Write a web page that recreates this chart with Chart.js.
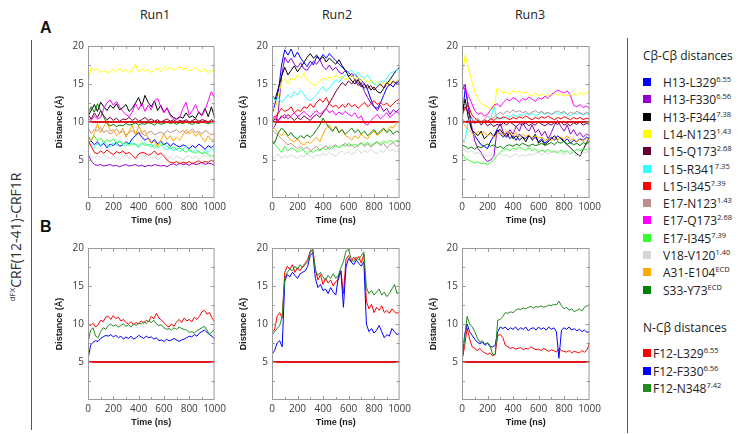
<!DOCTYPE html>
<html><head><meta charset="utf-8">
<script src="https://cdn.jsdelivr.net/npm/chart.js@4"></script>
<style>
html,body{margin:0;padding:0;background:#fff}
body{width:747px;height:434px;position:relative;overflow:hidden;font-family:"Open Sans",sans-serif;color:#222}
canvas{position:absolute}
.run{position:absolute;top:6px;font-size:12.5px;width:80px;margin-left:-40px;text-align:center;color:#222}
.lab{position:absolute;left:40px;font:bold 16px "Liberation Sans",Arial,sans-serif;color:#111}
.vline{position:absolute;width:1px;background:#555}
.side{position:absolute;left:15px;top:237px;transform:translate(-50%,-50%) rotate(-90deg);white-space:nowrap;font-size:14px;color:#333}
.side .s{font-size:8px;position:relative;top:-6px}
.lgt{position:absolute;left:643px;font-size:12px;transform:translateY(-50%);white-space:nowrap;color:#222}
.it{position:absolute;font-size:12px;white-space:nowrap;transform:translateY(-50%);color:#222}
.it .s{font-size:7.5px;position:relative;top:-5px}
.sw{position:absolute;width:8px;height:8px;transform:translateY(-50%)}
</style>
</head><body>
<div class="run" style="left:155px">Run1</div>
<div class="run" style="left:337px">Run2</div>
<div class="run" style="left:530px">Run3</div>
<div class="lab" style="top:19px">A</div>
<div class="lab" style="top:218px">B</div>
<div class="vline" style="left:31px;top:40px;height:390px"></div>
<div class="vline" style="left:627px;top:38px;height:395px"></div>
<div class="side"><span class="s">dFX</span>CRF(12-41)-CRF1R</div>
<div class="lgt" style="top:55px">Cβ-Cβ distances</div>
<div class="lgt" style="top:327px">N-Cβ distances</div>
<script>
// ---------- DATA ----------
const TIME_A = [0,25,50,75,100,125,150,175,200,225,250,275,300,325,350,375,400,425,450,475,500,525,550,575,600,625,650,675,700,725,750,775,800,825,850,875,900,925,950,975,1000];
const TIME_B = [0,20,40,60,80,100,120,140,160,180,200,220,240,260,280,300,320,340,360,380,400,420,440,460,480,500,520,540,560,580,600,620,640,660,680,700,720,740,760,780,800,820,840,860,880,900,920,940,960,980,1000];
const RUNS = ["Run1","Run2","Run3"];
const PAIRS_CB = ["H13-L329","H13-F330","H13-F344","L14-N123","L15-Q173","L15-R341","L15-I345","E17-N123","E17-Q173","E17-I345","V18-V120","A31-E104","S33-Y73"];
const SUPS_CB = ["6.55","6.56","7.38","1.43","2.68","7.35","7.39","1.43","2.68","7.39","1.40","ECD","ECD"];
const PAIRS_NCB = ["F12-L329","F12-F330","F12-N348"];
const SUPS_NCB = ["6.55","6.56","7.42"];
const X_TICKS = [0,200,400,600,800,1000];
const Y_TICKS = [5,10,15,20];
const CUT_T = [0,1000];
const CUT_A = [10,10];
const CUT_B = [5,5];

// Panel A, Run1
const a1_H13_L329 = [8.2,7.5,7.0,7.4,6.8,7.2,6.6,7.1,6.9,7.3,6.8,7.0,7.4,7.1,7.8,8.2,8.6,8.0,7.6,7.9,7.3,7.7,7.1,7.5,7.0,7.3,6.8,7.2,6.9,6.7,7.0,6.8,6.5,6.9,6.6,7.1,6.8,6.4,6.9,6.6,7.0];
const a1_H13_F330 = [5.8,4.9,4.4,4.3,4.4,4.2,4.3,4.4,4.2,4.3,4.1,4.3,4.4,4.2,4.3,4.4,4.2,4.3,4.1,4.3,4.2,4.4,4.3,4.2,4.3,4.1,4.4,4.5,4.3,4.6,4.4,4.5,4.3,4.6,4.4,4.5,4.7,4.4,4.6,4.5,4.3];
const a1_H13_F344 = [10.8,11.5,12.3,11.4,12.6,12.0,11.5,12.2,11.8,12.4,11.6,11.9,12.3,11.4,11.8,12.5,13.2,12.1,13.5,12.6,12.0,12.8,11.5,12.2,11.3,11.8,11.0,10.6,10.4,10.7,10.5,11.2,10.6,10.8,10.5,11.3,10.9,11.8,10.7,12.0,10.6];
const a1_L14_N123 = [15.0,17.2,16.8,17.0,16.5,16.8,16.4,16.7,16.9,16.5,17.1,16.6,16.9,16.5,16.8,17.6,16.6,17.0,16.7,16.9,16.5,16.8,17.1,16.6,17.3,16.9,17.2,16.8,17.0,17.3,16.9,17.1,16.7,16.9,17.2,16.8,16.6,17.0,16.4,16.9,16.5];
const a1_L15_Q173 = [11.0,10.4,11.2,10.6,11.5,10.8,10.3,10.6,10.2,10.5,10.1,10.4,10.3,10.6,10.2,10.5,10.1,10.3,10.6,10.2,10.4,10.1,10.3,10.0,10.2,10.4,10.1,10.3,10.0,10.2,10.1,10.3,10.0,10.2,10.4,10.1,10.3,10.2,10.0,10.3,10.1];
const a1_L15_R341 = [7.5,7.0,6.6,7.2,6.8,7.5,7.0,6.7,7.3,6.9,7.6,7.1,6.8,7.4,7.0,7.2,6.6,7.0,7.3,6.8,7.1,6.5,6.9,7.2,6.6,6.3,6.7,6.2,6.5,6.1,6.4,6.8,6.2,6.0,6.4,6.1,5.8,6.3,6.0,6.5,6.2];
const a1_L15_I345 = [7.6,6.8,6.0,5.8,6.2,5.9,6.3,6.0,5.7,6.1,5.9,6.2,5.8,6.0,5.6,5.2,5.8,6.0,5.9,5.6,5.8,6.2,5.7,5.9,5.5,5.0,4.7,4.6,4.8,4.5,4.7,4.6,4.8,4.5,4.7,4.9,4.6,4.8,4.7,5.0,4.6];
const a1_E17_N123 = [9.2,8.5,9.0,8.8,9.3,8.6,8.9,8.4,8.7,9.1,8.5,8.8,8.3,8.6,8.9,8.4,8.7,8.5,8.2,8.6,8.8,8.3,8.5,8.7,8.4,8.9,8.6,8.8,9.0,8.6,8.9,8.5,8.7,9.1,8.6,8.8,8.4,8.9,8.6,8.3,8.5];
const a1_E17_Q173 = [10.5,10.2,10.8,10.4,10.6,11.8,12.5,12.9,12.2,12.7,12.0,11.4,11.0,10.7,11.3,12.4,11.6,12.5,11.4,12.2,11.6,12.8,13.1,12.0,11.2,11.9,10.8,10.5,10.3,10.6,11.8,12.6,10.9,11.5,12.3,11.2,10.8,11.6,12.8,14.0,13.2];
const a1_E17_I345 = [8.0,7.6,8.2,7.5,7.9,7.3,7.7,7.4,7.8,7.2,7.5,7.0,7.3,6.9,7.2,7.0,6.8,7.3,6.9,7.1,6.7,7.0,6.6,6.9,7.2,6.8,6.5,6.7,6.4,6.6,6.3,6.0,6.4,6.1,5.9,6.2,5.8,6.0,5.7,5.5,5.6];
const a1_V18_V120 = [5.8,5.5,5.2,5.6,5.3,5.7,5.4,5.2,5.6,5.3,5.0,5.4,5.7,5.2,5.5,5.1,5.4,5.8,5.3,5.6,5.2,5.5,5.0,5.3,5.7,5.2,5.4,5.1,5.5,5.3,5.0,5.4,5.6,5.2,5.5,5.1,5.4,5.7,5.3,5.5,5.2];
const a1_A31_E104 = [8.0,7.5,8.5,9.8,8.6,9.4,10.2,8.8,9.0,8.2,8.5,9.2,8.0,8.8,9.6,8.3,9.5,8.6,8.9,7.8,7.2,7.5,6.8,7.6,8.4,7.7,8.2,7.5,8.0,7.6,8.3,9.0,8.4,8.8,8.1,8.6,7.9,7.4,8.2,7.6,7.8];
const a1_S33_Y73 = [11.2,12.0,11.3,12.4,11.5,10.6,9.8,9.5,9.7,9.4,9.6,9.5,9.8,9.6,9.7,9.9,9.6,9.8,9.7,9.9,9.8,9.6,9.9,9.7,9.8,10.0,9.8,9.9,9.7,9.9,9.8,10.0,9.8,9.7,9.9,9.8,10.0,9.9,9.8,9.9,9.9];

// Panel A, Run2
const a2_H13_L329 = [11.0,12.5,14.0,17.5,19.5,18.8,19.6,18.5,19.2,18.4,17.8,17.3,18.0,17.5,18.6,18.2,18.9,18.4,19.0,18.5,18.1,17.6,17.2,16.8,16.5,16.0,16.3,15.8,15.5,15.0,14.2,13.0,12.0,11.8,12.5,13.5,14.5,15.0,14.6,15.3,15.0];
const a2_H13_F330 = [9.0,9.5,11.5,16.0,18.5,17.8,18.4,17.6,17.2,17.8,17.0,16.8,17.4,18.0,17.6,18.2,17.3,16.9,17.5,16.8,17.2,16.6,16.3,16.8,16.0,16.4,15.5,14.8,15.2,14.0,13.2,12.5,12.0,11.5,12.2,11.4,11.8,11.0,11.6,11.3,11.8];
const a2_H13_F344 = [13.5,13.0,14.5,16.0,17.2,16.2,16.8,17.4,16.6,17.2,17.8,18.5,19.0,18.4,18.8,18.2,18.6,17.9,18.4,18.0,17.6,18.2,17.4,16.8,16.0,15.4,15.0,15.6,14.8,14.5,14.9,14.2,14.6,14.0,13.8,14.4,15.0,15.6,16.2,16.8,17.2];
const a2_L14_N123 = [12.0,11.5,13.5,15.2,15.6,15.0,15.8,15.5,16.2,15.8,16.4,15.6,15.2,14.8,15.0,15.4,15.8,15.5,16.0,15.6,16.2,15.8,16.0,15.5,15.8,16.2,15.6,15.9,15.4,15.7,15.2,15.5,15.0,15.3,14.8,15.2,14.9,15.4,15.1,15.5,15.3];
const a2_L15_Q173 = [10.0,10.4,10.2,10.8,10.5,11.0,10.6,10.2,10.6,10.3,10.8,10.5,10.2,10.7,11.0,10.6,11.2,11.8,12.5,13.2,14.0,14.6,15.2,14.8,15.4,15.0,15.6,15.2,14.6,15.0,14.4,14.8,14.2,14.6,15.0,14.5,15.2,14.8,15.4,15.0,15.6];
const a2_L15_R341 = [13.5,12.8,13.2,12.6,13.0,13.6,13.2,14.0,13.5,14.2,13.6,13.0,12.8,13.2,13.6,14.2,14.6,14.0,14.5,15.0,15.6,15.2,15.8,16.2,16.6,16.8,16.2,16.5,16.0,15.8,16.2,15.6,15.0,14.8,15.4,15.2,15.8,16.4,16.6,16.8,17.0];
const a2_L15_I345 = [10.2,10.6,11.2,11.8,11.4,11.6,12.0,11.2,11.6,11.4,12.0,11.8,12.4,11.9,12.6,13.0,12.6,13.2,12.4,12.0,12.2,11.8,12.3,11.9,12.5,12.0,12.3,11.8,12.2,12.6,12.0,12.4,12.8,12.3,12.6,12.2,12.5,12.0,12.4,12.8,13.0];
const a2_E17_N123 = [9.0,8.6,8.2,7.8,7.4,7.0,7.2,6.8,6.5,6.8,6.4,6.7,6.2,6.5,6.8,6.3,6.6,6.9,6.4,6.8,7.0,6.6,6.9,7.2,6.8,7.0,6.6,7.0,7.3,6.8,7.1,6.7,7.0,7.4,6.9,7.2,6.6,7.0,7.3,6.8,7.0];
const a2_E17_Q173 = [10.5,10.8,10.2,10.6,11.0,10.4,10.8,11.2,10.7,11.0,11.4,11.0,10.6,11.2,11.5,11.0,11.4,11.8,11.2,11.5,10.9,11.3,11.0,11.4,11.0,10.8,11.2,10.5,10.8,9.8,9.6,10.2,10.6,11.0,10.4,10.8,11.2,10.6,11.0,11.4,11.0];
const a2_E17_I345 = [7.5,7.0,6.5,6.0,6.8,6.2,6.6,6.4,6.0,6.5,6.2,5.8,6.2,6.0,6.4,6.2,6.6,6.3,6.8,6.5,6.9,6.6,7.0,6.8,7.2,6.9,7.1,6.8,7.2,7.0,7.3,6.9,7.2,7.4,7.1,7.5,7.2,7.6,7.3,7.6,7.4];
const a2_V18_V120 = [5.0,5.4,5.8,5.2,5.6,5.3,5.7,5.4,5.2,5.6,5.4,5.8,5.5,5.3,5.7,5.5,5.9,5.6,6.0,5.7,5.5,5.9,6.2,5.8,6.1,5.7,6.0,6.4,5.9,6.2,6.0,6.5,6.1,5.8,6.3,6.0,6.6,6.2,6.4,6.1,6.3];
const a2_A31_E104 = [9.5,9.0,8.6,8.2,8.8,8.0,7.6,7.4,7.8,7.2,7.0,7.4,7.2,7.6,8.0,7.4,8.4,9.2,9.6,8.8,9.4,8.6,9.0,8.2,8.0,7.6,8.2,7.8,8.4,8.0,7.8,8.4,8.8,8.2,8.6,9.0,8.8,9.4,9.2,9.8,10.0];
const a2_S33_Y73 = [7.0,7.4,8.6,9.2,8.8,8.2,8.6,8.0,7.8,8.2,7.9,8.3,8.0,8.4,9.0,9.6,10.5,9.8,9.2,8.8,9.4,8.6,9.0,8.4,8.8,9.2,8.6,9.0,8.4,8.8,8.2,8.6,9.0,8.4,8.8,9.2,8.6,9.0,8.4,8.8,8.6];

// Panel A, Run3
const a3_H13_L329 = [10.0,14.5,12.0,9.0,8.2,7.6,7.0,6.8,6.5,7.5,8.2,9.0,8.4,8.0,8.6,7.8,8.2,7.6,8.4,8.0,7.8,8.3,7.6,8.0,7.4,7.8,7.2,7.6,8.0,7.6,8.2,7.8,7.4,7.8,7.2,7.6,7.4,7.8,7.6,8.0,7.8];
const a3_H13_F330 = [14.0,15.0,12.0,9.5,7.5,6.5,6.0,5.2,4.8,5.0,5.5,9.0,9.8,8.6,8.2,9.0,8.4,9.4,8.8,10.0,9.2,8.8,9.6,8.6,9.0,8.2,8.8,7.8,8.6,9.6,10.2,9.4,8.8,9.6,8.4,9.0,8.2,8.6,8.0,8.4,8.2];
const a3_H13_F344 = [11.0,13.0,10.5,9.0,8.6,8.2,8.8,7.8,8.2,8.6,8.0,8.8,9.0,8.4,8.0,8.6,7.8,8.2,7.6,8.0,7.4,8.2,7.8,8.4,7.2,7.6,7.0,7.4,7.8,8.2,7.6,8.0,7.4,7.0,6.6,6.2,5.8,5.5,6.4,7.2,8.0];
const a3_L14_N123 = [16.0,18.8,17.0,15.5,14.0,13.0,12.5,12.2,12.0,11.8,11.6,14.5,14.2,13.8,14.0,13.6,14.2,13.8,14.1,13.7,14.0,13.6,13.4,13.8,13.5,13.7,13.3,13.6,13.4,13.8,13.5,13.7,13.4,13.6,13.3,13.7,13.5,13.9,13.6,13.8,14.0];
const a3_L15_Q173 = [11.5,12.0,11.2,10.5,9.8,10.2,9.6,10.0,9.5,9.8,9.4,9.7,9.5,9.9,9.6,10.0,9.7,9.4,9.8,9.6,9.9,9.5,9.8,9.6,10.0,9.7,9.5,9.8,9.6,9.9,9.7,10.0,9.6,9.8,9.5,9.9,9.7,10.0,9.6,9.8,9.7];
const a3_L15_R341 = [7.5,7.8,10.2,10.5,10.0,10.3,9.8,10.2,10.0,10.4,12.0,10.3,10.6,10.4,10.8,10.6,11.0,10.7,11.0,10.8,11.2,10.9,11.1,10.8,11.0,11.3,11.0,11.2,10.9,11.4,11.1,11.0,11.3,11.0,10.8,11.1,11.0,11.2,10.9,11.1,11.0];
const a3_L15_I345 = [11.0,11.8,12.2,11.0,10.5,10.2,10.0,10.3,10.1,10.4,10.2,10.6,10.4,10.7,10.5,10.3,10.6,10.4,10.7,10.5,10.8,10.5,10.3,10.6,10.4,10.7,10.5,10.8,10.5,10.3,10.6,10.4,10.7,10.5,10.3,10.6,10.4,10.6,10.3,10.5,10.4];
const a3_E17_N123 = [10.5,10.0,10.3,9.8,10.2,10.5,10.0,10.3,10.8,10.4,10.6,11.0,11.3,11.0,11.5,11.2,11.6,11.3,11.5,11.2,11.4,11.0,11.3,11.5,11.2,11.4,11.1,11.3,11.0,11.2,11.5,11.2,11.4,11.0,11.3,11.1,11.4,11.2,11.0,11.3,11.1];
const a3_E17_Q173 = [15.0,14.2,13.5,12.5,11.5,11.0,11.2,10.8,11.0,11.6,12.2,12.4,12.0,12.6,13.0,12.8,13.2,13.0,12.6,13.1,12.9,13.3,13.0,12.7,13.2,13.0,13.4,13.1,13.6,13.9,14.2,14.0,13.8,14.1,13.5,12.2,12.0,12.3,11.9,12.1,11.8];
const a3_E17_I345 = [6.0,5.2,5.0,4.8,4.6,4.8,4.5,4.6,4.4,4.7,5.0,5.6,6.0,6.3,6.5,6.2,6.6,6.4,6.7,6.5,6.3,6.6,6.2,6.5,6.0,6.3,6.1,6.4,6.0,6.2,5.9,6.3,6.0,6.2,5.8,6.1,6.4,6.2,6.5,6.3,6.6];
const a3_V18_V120 = [6.5,6.2,6.0,6.3,5.8,6.0,5.6,5.8,5.5,5.7,5.4,5.6,5.8,5.5,5.7,5.3,5.6,5.8,5.4,5.7,5.5,5.8,5.6,5.9,6.0,5.7,6.0,5.8,6.1,5.9,6.2,6.0,5.7,5.9,6.1,5.8,5.5,5.7,5.9,6.0,6.2];
const a3_A31_E104 = [10.0,9.5,9.0,8.6,8.2,8.8,8.4,8.6,8.2,8.5,8.0,8.4,8.6,8.2,8.8,8.5,8.2,8.6,8.0,8.4,8.1,8.3,7.8,8.2,7.9,8.0,7.6,7.8,7.5,7.9,7.6,8.0,7.7,8.2,7.6,7.8,7.4,7.7,7.5,7.8,7.6];
const a3_S33_Y73 = [7.0,6.8,6.5,6.7,6.4,6.8,6.6,6.9,7.1,6.8,7.0,6.6,6.8,6.5,6.9,7.0,6.8,7.1,6.9,7.2,7.0,6.8,7.1,6.9,7.0,7.2,6.9,7.1,7.3,7.0,7.4,7.2,7.5,7.1,7.3,7.0,7.2,6.9,7.3,7.1,7.4];

// Panel B
const b1_F12_L329 = [10.0,9.8,10.1,9.6,9.9,10.5,10.3,10.9,11.0,10.6,11.1,10.7,10.9,10.4,10.6,10.2,10.0,10.3,9.9,10.2,10.0,10.4,10.1,10.5,10.3,11.0,10.7,11.4,10.8,10.5,10.2,9.8,9.6,10.0,9.7,10.3,10.6,10.2,10.8,10.4,10.6,10.3,10.9,10.6,11.0,11.6,11.8,11.3,11.5,10.8,10.3];
const b1_F12_F330 = [5.3,7.2,7.6,7.8,7.7,8.1,8.3,8.5,8.4,8.6,8.3,8.5,8.2,8.4,8.0,8.3,8.1,8.4,8.0,8.2,8.5,8.3,8.1,8.4,8.2,8.3,8.0,8.2,7.8,7.9,7.7,8.0,7.8,7.9,8.1,7.9,7.7,7.9,8.0,8.2,8.4,8.3,8.6,8.4,8.8,9.0,9.2,8.9,8.6,8.4,8.0];
const b1_F12_N348 = [7.5,9.2,9.5,8.4,8.2,9.0,9.5,9.3,9.8,10.0,9.7,9.9,9.6,9.8,10.0,9.7,9.9,9.6,10.0,9.8,10.1,10.0,10.3,10.1,10.4,10.2,10.5,10.0,9.8,9.9,9.5,9.3,9.4,9.2,9.5,9.3,9.6,9.4,9.3,9.2,8.9,9.0,8.8,9.1,9.3,9.5,9.7,9.2,8.6,9.0,9.3];
const b2_F12_L329 = [9.0,9.2,11.0,11.5,10.8,16.8,17.6,17.2,17.8,16.8,17.4,17.0,17.6,18.0,18.5,19.6,19.8,17.2,15.8,16.5,15.2,16.0,15.4,15.8,15.0,15.6,15.8,17.0,14.0,18.5,19.0,18.2,18.8,18.4,18.9,18.0,19.2,13.0,12.0,12.6,11.5,12.2,11.8,12.4,11.5,11.8,11.4,12.0,11.6,11.4,11.6];
const b2_F12_F330 = [6.0,6.5,7.5,7.8,7.0,15.6,16.5,16.2,16.8,16.4,16.0,16.6,16.8,17.0,17.6,19.0,19.4,16.0,14.8,15.2,14.4,14.6,14.0,14.8,14.2,13.8,16.2,17.0,12.2,17.5,18.6,18.2,17.8,18.4,18.0,17.6,18.2,10.0,9.0,9.4,8.8,9.2,9.8,9.0,8.2,8.6,8.4,9.4,9.0,8.6,8.8];
const b2_F12_N348 = [8.5,9.0,9.4,9.8,11.0,16.0,16.8,17.2,17.0,17.6,17.2,17.8,17.4,17.8,18.2,19.4,19.8,17.0,16.4,16.8,16.2,15.8,16.4,16.0,16.6,16.0,16.4,17.4,18.2,19.6,19.8,18.6,18.2,18.8,18.4,19.0,19.5,14.8,14.0,14.4,13.8,14.2,14.6,13.8,14.2,13.6,14.0,14.6,15.2,14.0,14.2];
const b3_F12_L329 = [5.3,7.0,9.5,8.0,7.0,6.8,6.5,6.8,6.4,6.2,6.0,6.2,5.8,6.0,8.5,8.6,8.2,7.2,7.0,6.8,6.9,6.7,6.8,6.9,6.6,6.8,6.7,7.0,6.8,6.6,6.7,6.5,6.8,6.6,6.4,6.6,6.5,6.3,6.8,6.5,6.4,6.3,6.5,6.2,6.4,6.3,6.2,6.5,6.3,6.6,7.5];
const b3_F12_F330 = [5.0,8.5,10.0,9.0,8.5,8.0,7.6,7.4,7.6,7.2,7.5,7.0,7.0,7.2,9.0,9.6,9.4,9.6,9.2,9.5,9.3,9.6,9.2,9.5,9.3,9.6,9.1,9.4,9.5,9.2,9.6,9.3,9.5,9.2,9.6,9.3,9.5,9.0,5.5,9.2,9.5,9.3,9.6,9.2,9.4,9.1,9.3,9.0,9.2,8.9,9.0];
const b3_F12_N348 = [5.0,8.0,11.0,10.0,9.6,9.0,8.2,7.6,7.8,7.4,7.5,7.2,6.0,6.0,10.5,10.6,11.0,11.5,11.4,11.6,11.5,11.8,12.0,11.9,12.1,12.0,12.2,12.3,12.1,12.3,12.2,12.4,12.2,12.3,12.5,12.4,12.6,12.5,13.0,12.4,12.0,12.2,11.8,12.0,11.6,11.8,12.0,11.7,12.2,12.4,12.5];

const RUN1_A = [a1_H13_L329,a1_H13_F330,a1_H13_F344,a1_L14_N123,a1_L15_Q173,a1_L15_R341,a1_L15_I345,a1_E17_N123,a1_E17_Q173,a1_E17_I345,a1_V18_V120,a1_A31_E104,a1_S33_Y73];
const RUN2_A = [a2_H13_L329,a2_H13_F330,a2_H13_F344,a2_L14_N123,a2_L15_Q173,a2_L15_R341,a2_L15_I345,a2_E17_N123,a2_E17_Q173,a2_E17_I345,a2_V18_V120,a2_A31_E104,a2_S33_Y73];
const RUN3_A = [a3_H13_L329,a3_H13_F330,a3_H13_F344,a3_L14_N123,a3_L15_Q173,a3_L15_R341,a3_L15_I345,a3_E17_N123,a3_E17_Q173,a3_E17_I345,a3_V18_V120,a3_A31_E104,a3_S33_Y73];
const RUN1_B = [b1_F12_L329,b1_F12_F330,b1_F12_N348];
const RUN2_B = [b2_F12_L329,b2_F12_F330,b2_F12_N348];
const RUN3_B = [b3_F12_L329,b3_F12_F330,b3_F12_N348];

// ---------- STYLE ----------
const COL_CB = ['#0000ff','#9400d3','#000000','#ffff00','#660033','#33ffff','#ff0000','#bc8f8f','#ff00ff','#33ff33','#d6d6d6','#ffa500','#008000'];
const COL_NCB = ['#ff0000','#0000ff','#228b22'];
const PH = 156, LW = 40, RW = 6, TH = 6, BH = 28;

const framePlugin = {
  id: 'frame',
  afterDraw(c) {
    const {ctx, chartArea: a, scales: {x, y}} = c;
    ctx.save();
    ctx.strokeStyle = '#9a9a9a';
    ctx.lineWidth = 1;
    ctx.strokeRect(a.left + 0.5, a.top + 0.5, a.right - a.left - 1, a.bottom - a.top - 1);
    ctx.beginPath();
    for (let v = 100; v < 1000; v += 100) {
      const px = Math.round(x.getPixelForValue(v)) + 0.5;
      const L = (v % 200 === 0) ? 4 : 3;
      ctx.moveTo(px, a.bottom); ctx.lineTo(px, a.bottom - L);
      ctx.moveTo(px, a.top); ctx.lineTo(px, a.top + L);
    }
    for (let v = 2.5; v < 20; v += 2.5) {
      const py = Math.round(y.getPixelForValue(v)) + 0.5;
      const L = (v % 5 === 0) ? 4 : 3;
      ctx.moveTo(a.left, py); ctx.lineTo(a.left + L, py);
      ctx.moveTo(a.right, py); ctx.lineTo(a.right - L, py);
    }
    ctx.stroke();
    ctx.restore();
  }
};

function makePanel(px, py, pw, times, sets, colors, cut) {
  const cv = document.createElement('canvas');
  const W = pw + LW + RW, H = PH + TH + BH;
  cv.width = W; cv.height = H;
  cv.style.left = (px - LW) + 'px'; cv.style.top = (py - TH) + 'px';
  cv.style.width = W + 'px'; cv.style.height = H + 'px';
  document.body.appendChild(cv);
  const ds = [{data: CUT_T.map((t, i) => ({x: t, y: cut[i]})), borderColor: '#e3141c', borderWidth: 2, pointRadius: 0, tension: 0}];
  for (let i = sets.length - 1; i >= 0; i--) {
    ds.push({data: times.map((t, k) => ({x: t, y: sets[i][k]})), borderColor: colors[i], borderWidth: 1, pointRadius: 0, tension: 0});
  }
  const tickFont = {family: 'Open Sans', size: 10};
  const titleFont = {family: 'Liberation Sans', weight: 'bold', size: 9};
  new Chart(cv, {
    type: 'line',
    data: {datasets: ds},
    options: {
      responsive: false, animation: false, devicePixelRatio: 1, events: [],
      layout: {padding: {left: 0, top: TH, right: RW, bottom: 0}},
      plugins: {legend: {display: false}, tooltip: {enabled: false}},
      scales: {
        x: {type: 'linear', min: 0, max: 1000,
          afterFit: s => { s.height = BH; },
          afterBuildTicks: s => { s.ticks = X_TICKS.map(v => ({value: v})); },
          grid: {display: false, drawTicks: false}, border: {display: false},
          ticks: {padding: 3, font: tickFont, color: '#3a3a3a', maxRotation: 0, autoSkip: false, callback: v => String(v)},
          title: {display: true, text: 'Time (ns)', font: titleFont, color: '#1a1a1a', padding: {top: 0, bottom: 0}}},
        y: {type: 'linear', min: 0, max: 20,
          afterFit: s => { s.width = LW; },
          afterBuildTicks: s => { s.ticks = Y_TICKS.map(v => ({value: v})); },
          grid: {display: false, drawTicks: false}, border: {display: false},
          ticks: {padding: 4, font: tickFont, color: '#3a3a3a', callback: v => String(v)},
          title: {display: true, text: 'Distance (Å)', font: titleFont, color: '#1a1a1a', padding: {top: 6, bottom: 0}}}
      }
    },
    plugins: [framePlugin]
  });
}

makePanel(88, 42, 135, TIME_A, RUN1_A, COL_CB, CUT_A);
makePanel(272, 42, 136, TIME_A, RUN2_A, COL_CB, CUT_A);
makePanel(462, 42, 136, TIME_A, RUN3_A, COL_CB, CUT_A);
makePanel(88, 244, 135, TIME_B, RUN1_B, COL_NCB, CUT_B);
makePanel(272, 244, 136, TIME_B, RUN2_B, COL_NCB, CUT_B);
makePanel(462, 244, 136, TIME_B, RUN3_B, COL_NCB, CUT_B);

// legend
function addItem(y, sx, lx, color, name, sup) {
  const sw = document.createElement('div');
  sw.className = 'sw'; sw.style.left = sx + 'px'; sw.style.top = y + 'px'; sw.style.background = color;
  document.body.appendChild(sw);
  const it = document.createElement('div');
  it.className = 'it'; it.style.left = lx + 'px'; it.style.top = y + 'px';
  it.appendChild(document.createTextNode(name));
  const s = document.createElement('span'); s.className = 's'; s.textContent = sup;
  it.appendChild(s);
  document.body.appendChild(it);
}
PAIRS_CB.forEach((n, i) => addItem(82 + 17.3 * i, 643, 663, COL_CB[i], n, SUPS_CB[i]));
PAIRS_NCB.forEach((n, i) => addItem(353 + 17.5 * i, 643, 653, COL_NCB[i], n, SUPS_NCB[i]));
</script>
</body></html>
